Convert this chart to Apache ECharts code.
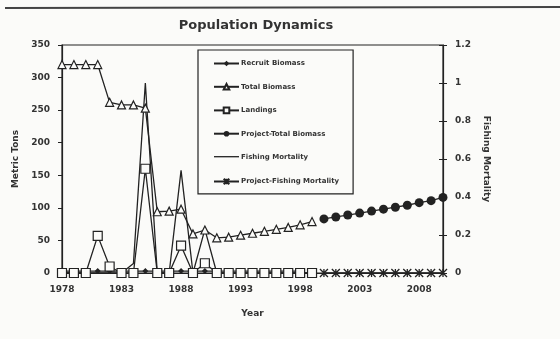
<!DOCTYPE html>
<html><head><meta charset="utf-8">
<script src="https://cdn.jsdelivr.net/npm/echarts@6/dist/echarts.min.js"></script>
<style>html,body{margin:0;padding:0;background:#fbfbf9;}#c{width:560px;height:339px;}</style>
</head><body><div id="c"></div>
<script>
// ---- data ----
const years = ['1978','1979','1980','1981','1982','1983','1984','1985','1986','1987','1988','1989','1990','1991','1992','1993','1994','1995','1996','1997','1998','1999','2000','2001','2002','2003','2004','2005','2006','2007','2008','2009','2010'];
// 1978-1998
const recruitBiomass = [3,3,3,3,3,3,3,3,3,3,3,3,3,3,3,3,3,3,3,3,3];
// 1978-1999
const totalBiomass = [320,320,320,320,262,258,258,253,94,95,98,60,66,54,55,58,61,64,67,70,74,79];
// 1978-1999
const landings = [0,0,0,57,10,0,0,160,0,0,42,0,15,0,0,0,0,0,0,0,0,0];
// 2000-2010
const projectTotalBiomass = [83,86,89,92,95,98,101,104,108,111,116];
// 1978-1999 (right axis)
const fishingMortality = [0,0,0,0,0,0,0.05,1.0,0,0,0.54,0,0.23,0,0,0,0,0,0,0,0,0];
// 2000-2010 (right axis)
const projectFishingMortality = [0,0,0,0,0,0,0,0,0,0,0];
const leftTicks = {min:0, max:350, interval:50};
const rightTicks = {min:0, max:1.2, interval:0.2};

function place(arr, startYear){
  const out = years.map(()=>null);
  const s = years.indexOf(String(startYear));
  arr.forEach((v,i)=>{ out[s+i]=v; });
  return out;
}
const ink = '#222';
const bg = '#fbfbf9';
const F = 'DejaVu Sans';
const lineS = {color: ink, width: 1.3};
const chart = echarts.init(document.getElementById('c'));
chart.setOption({
  backgroundColor: bg,
  animation: false,
  title: {text: 'Population Dynamics', left: 251, textAlign:'center', top: 14,
    textStyle: {fontFamily: F, fontSize: 13, fontWeight: 'bold', color: '#333'}},
  graphic: [{type:'line', shape:{x1:5,y1:8,x2:560,y2:7}, style:{stroke:'#444', lineWidth:2}}],
  grid: {left: 62, right: 117, top: 45, bottom: 66, show: true, borderColor: ink, borderWidth: 1.2},
  legend: {
    orient: 'vertical', left: 198, top: 50,
    padding: [10, 14, 7, 15], itemGap: 16, itemWidth: 25, itemHeight: 7,
    borderColor: ink, borderWidth: 1.2, backgroundColor: bg,
    textStyle: {fontFamily: F, fontSize: 7, fontWeight: 'bold', color: '#333', padding:[0,0,0,-3]},
    data: ['Recruit Biomass','Total Biomass','Landings','Project-Total Biomass',
      {name: 'Fishing Mortality', icon: 'path://M0,0H25V1.3H0Z', itemStyle: {color: ink}},
      'Project-Fishing Mortality']
  },
  xAxis: {
    type: 'category', data: years, boundaryGap: false,
    name: 'Year', nameLocation: 'middle', nameGap: 36,
    nameTextStyle: {fontFamily: F, fontSize: 9, fontWeight: 'bold', color: '#333'},
    axisLine: {lineStyle: {color: ink, width: 1.2}},
    axisTick: {show: false},
    axisLabel: {interval: 4, fontFamily: F, fontSize: 9, fontWeight: 'bold', color: '#333', margin: 12},
    splitLine: {show: false}
  },
  yAxis: [
    {type: 'value', position: 'left', min: leftTicks.min, max: leftTicks.max, interval: leftTicks.interval,
     name: 'Metric Tons', nameLocation: 'middle', nameGap: 42, nameRotate: 90,
     nameTextStyle: {fontFamily: F, fontSize: 9, fontWeight: 'bold', color: '#333'},
     axisLine: {show: true, lineStyle: {color: ink, width: 1.2}},
     axisTick: {show: true, length: 4, lineStyle: {color: ink}},
     axisLabel: {fontFamily: F, fontSize: 9, fontWeight: 'bold', color: '#333', margin: 12},
     splitLine: {show: false}},
    {type: 'value', position: 'right', min: rightTicks.min, max: rightTicks.max, interval: rightTicks.interval,
     name: 'Fishing Mortality', nameLocation: 'middle', nameGap: 38, nameRotate: -90,
     nameTextStyle: {fontFamily: F, fontSize: 9, fontWeight: 'bold', color: '#333'},
     axisLine: {show: true, lineStyle: {color: ink, width: 1.2}},
     axisTick: {show: true, length: 4, lineStyle: {color: ink}},
     axisLabel: {fontFamily: F, fontSize: 9, fontWeight: 'bold', color: '#333', margin: 12},
     splitLine: {show: false}},
    {type: 'value', position: 'right', min: rightTicks.min, max: rightTicks.max, interval: rightTicks.interval,
     axisLine: {show: false},
     axisTick: {show: true, inside: true, length: 4, lineStyle: {color: ink}},
     axisLabel: {show: false}, splitLine: {show: false}}
  ],
  series: [
    {name: 'Recruit Biomass', type: 'line', yAxisIndex: 0, data: place(recruitBiomass, 1978),
     symbol: 'diamond', symbolSize: 6, showAllSymbol: true, lineStyle: lineS, itemStyle: {color: ink}},
    {name: 'Total Biomass', type: 'line', yAxisIndex: 0, data: place(totalBiomass, 1978),
     symbol: 'triangle', symbolSize: 8, showAllSymbol: true, lineStyle: lineS, itemStyle: {color: bg, borderColor: ink, borderWidth: 1.2}},
    {name: 'Landings', type: 'line', yAxisIndex: 0, data: place(landings, 1978),
     symbol: 'rect', symbolSize: 9, showAllSymbol: true, lineStyle: lineS, itemStyle: {color: bg, borderColor: ink, borderWidth: 1.2}},
    {name: 'Project-Total Biomass', type: 'line', yAxisIndex: 0, data: place(projectTotalBiomass, 2000),
     symbol: 'circle', symbolSize: 9, showAllSymbol: true, lineStyle: lineS, itemStyle: {color: ink}},
    {name: 'Fishing Mortality', type: 'line', yAxisIndex: 1, data: place(fishingMortality, 1978),
     symbol: 'none', showSymbol: false, lineStyle: lineS, itemStyle: {color: ink}},
    {name: 'Project-Fishing Mortality', type: 'line', yAxisIndex: 1, data: place(projectFishingMortality, 2000),
     symbol: 'path://M0,0L10,10M10,0L0,10M5,0L5,10', symbolSize: 8, showAllSymbol: true, lineStyle: lineS,
     itemStyle: {color: 'none', borderColor: ink, borderWidth: 1.3}}
  ]
});
</script></body></html>
